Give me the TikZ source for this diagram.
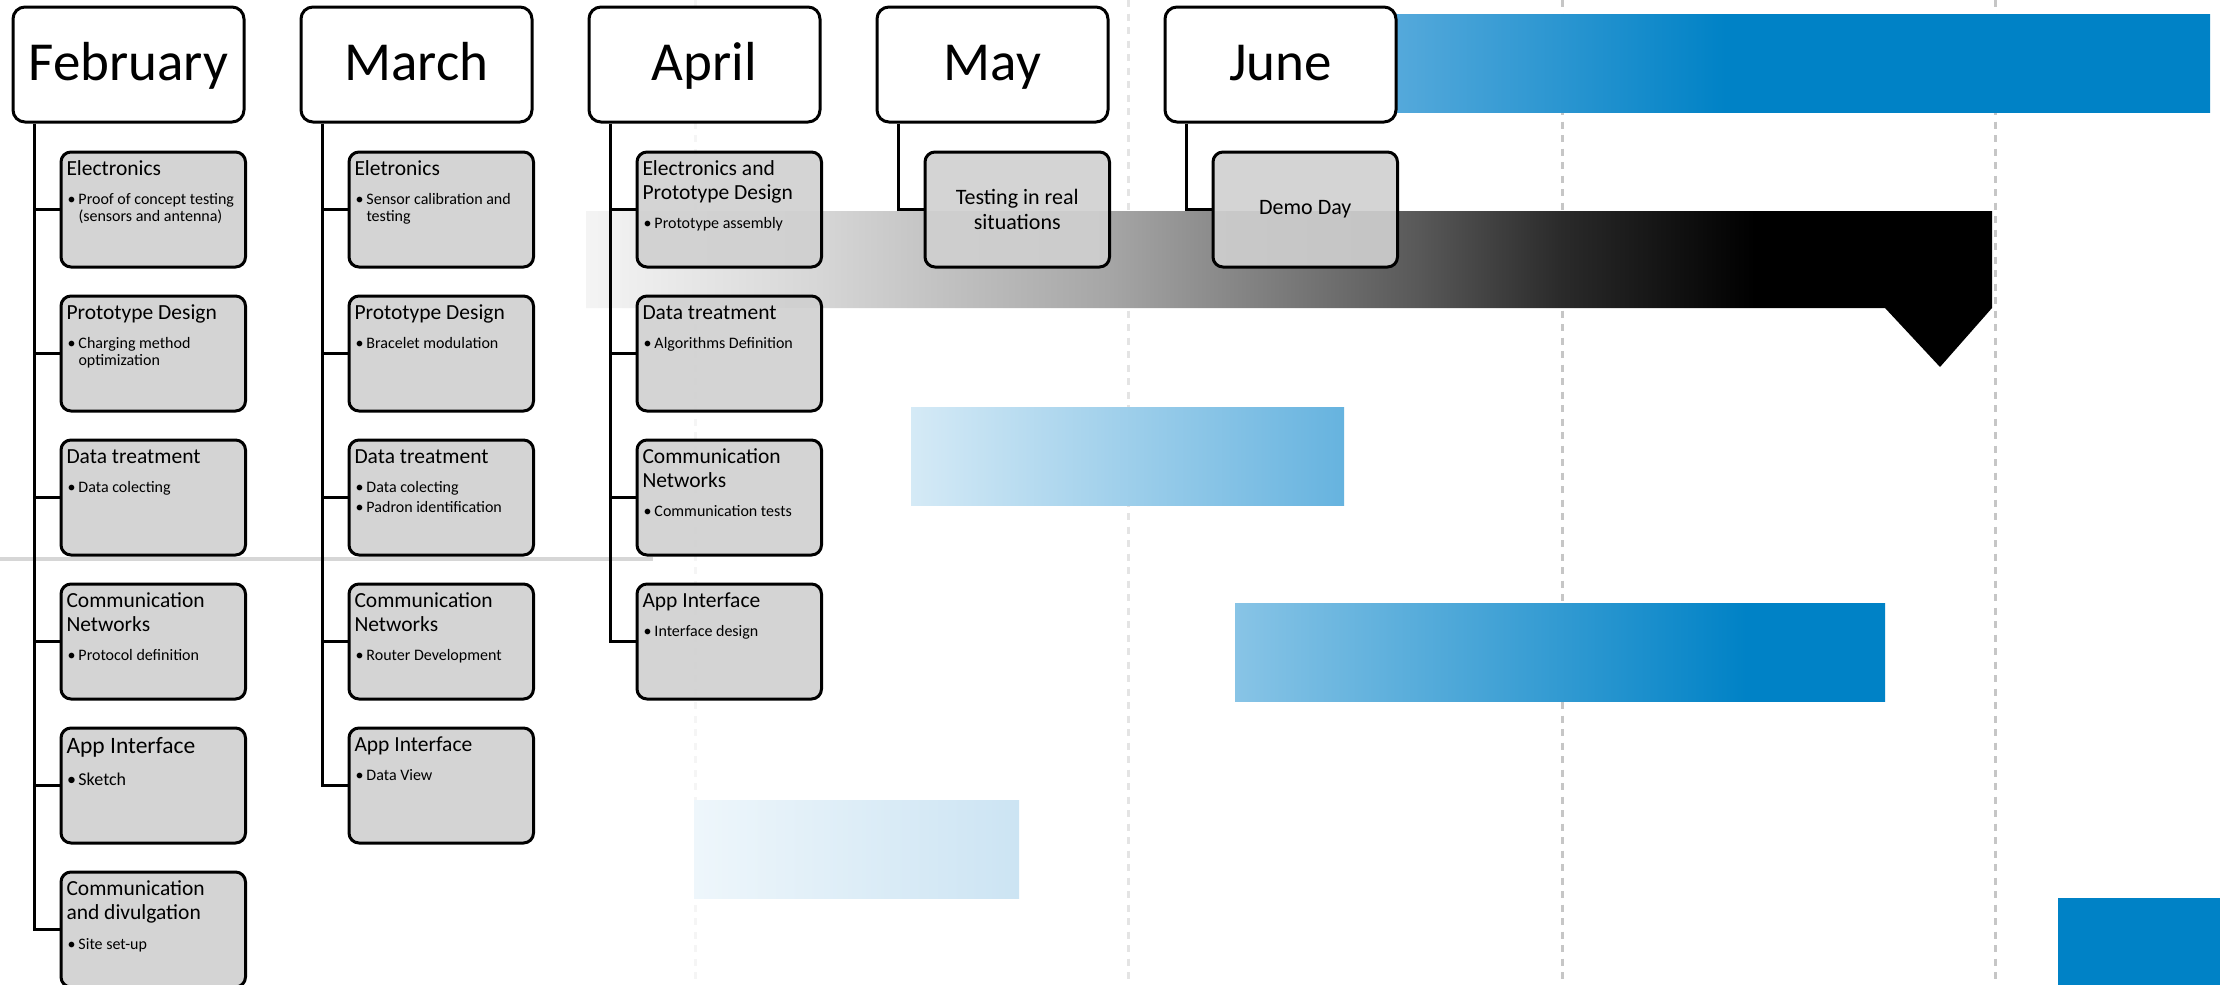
\documentclass[tikz,border=0pt]{standalone}
\usepackage{fontspec}
\setmainfont{Carlito}
\usetikzlibrary{calc}

\definecolor{boxgray}{HTML}{D0D0D0}
\definecolor{ganttblue}{HTML}{0082C6}
\definecolor{gridB}{HTML}{E4E4E4}
\definecolor{gridC}{HTML}{C6C6C6}
\definecolor{rulegray}{HTML}{D6D6D6}

% shading stops for the bars
\definecolor{bk0}{HTML}{F4F4F4}
\definecolor{bk1}{HTML}{D6D6D6}
\definecolor{bk2}{HTML}{A6A6A6}
\definecolor{bk3}{HTML}{585858}
\definecolor{bk4}{HTML}{2A2A2A}
\definecolor{bk5}{HTML}{000000}
\definecolor{tb0}{HTML}{55A9DB}
\definecolor{b2a}{HTML}{88C4E6}
\definecolor{b1a}{HTML}{D5EAF6}
\definecolor{b1b}{HTML}{66B3DF}
\definecolor{b3a}{HTML}{EEF6FB}
\definecolor{b3b}{HTML}{CCE4F3}

\pgfdeclarehorizontalshading{blackbar}{100bp}{color(0bp)=(bk0); color(25bp)=(bk0); color(33.32bp)=(bk1); color(43.56bp)=(bk2); color(54.66bp)=(bk3); color(59.71bp)=(bk4); color(66.57bp)=(bk5); color(100bp)=(bk5)}
\pgfdeclarehorizontalshading{topbar}{100bp}{color(0bp)=(tb0); color(25.9bp)=(tb0); color(45.8bp)=(ganttblue); color(100bp)=(ganttblue)}
\pgfdeclarehorizontalshading{midbar}{100bp}{color(0bp)=(b2a); color(25bp)=(b2a); color(64.3bp)=(ganttblue); color(100bp)=(ganttblue)}

% task box contents
\newcommand{\taskbox}[1]{\parbox[c][115pt][t]{184.5pt}{\parskip=0pt\raggedright #1}}
\newcommand{\ttl}[1]{{\fontsize{21.5}{24}\selectfont\leftskip=5.5pt\noindent\rule{0pt}{23.5pt}#1\par}}
\newcommand{\bul}[2][11pt]{\vspace{#1}{\fontsize{16}{17.5}\selectfont\leftskip=17.5pt\noindent\llap{\makebox[9pt][c]{\textbullet}\hspace{2.5pt}}#2\par}}

\begin{document}
\begin{tikzpicture}[x=1pt,y=-1pt,
  header/.style={draw, line width=3pt, fill=white, rounded corners=12pt,
    minimum width=231pt, minimum height=115pt, inner sep=0pt,
    text height=38pt, text depth=7pt, font=\fontsize{55}{62}\selectfont},
  task/.style={draw, line width=3pt, fill=boxgray, fill opacity=0.9, text opacity=1,
    rounded corners=10pt, minimum width=184.5pt, minimum height=115pt,
    inner sep=0pt, anchor=north west},
  milestone/.style={task, align=center, font=\fontsize{22}{25}\selectfont},
  link/.style={line width=3pt, black},
  gridline/.style={line width=3pt, dash pattern=on 7pt off 6.5pt}]

\useasboundingbox (0,0) rectangle (2220,985);
\fill[white] (0,0) rectangle (2220,985);

% time grid
\draw[gridline, draw=black, draw opacity=0.04] (695,0) -- (695,985);
\draw[gridline, gridB] (1128,0) -- (1128,985);
\draw[gridline, gridC] (1562,0) -- (1562,985);
\draw[gridline, gridC] (1995,0) -- (1995,985);

% schedule bars
\path[shading=topbar] (1380,14) rectangle (2210,112);
\path[shading=blackbar] (586,211) -- (1992,211) -- (1992,308) -- (1940,367) -- (1885,308) -- (586,308) -- cycle;
\path[left color=b1a, right color=b1b] (911,407) rectangle (1344,505);
\path[shading=midbar] (1235,603) rectangle (1885,701);
\path[left color=b3a, right color=b3b] (694,800) rectangle (1019,898);
\fill[ganttblue] (2058,898) rectangle (2220,985);

% row separator
\draw[rulegray, line width=4pt] (0,559) -- (653,559);

% month headers
\node[header] (feb) at (128.5,64.5) {February};
\node[header] (mar) at (416.5,64.5) {March};
\node[header] (apr) at (704.5,64.5) {April};
\node[header] (may) at (992.5,64.5) {May};
\node[header] (jun) at (1280.5,64.5) {June};

% February
\node[task] (f1) at (59.5,150.5) {\taskbox{\ttl{Electronics}\bul{Proof of concept testing\\(sensors and antenna)}}};
\node[task] (f2) at (59.5,294.5) {\taskbox{\ttl{Prototype Design}\bul{Charging method\\optimization}}};
\node[task] (f3) at (59.5,438.5) {\taskbox{\ttl{Data treatment}\bul{Data colecting}}};
\node[task] (f4) at (59.5,582.5) {\taskbox{\ttl{Communication\\Networks}\bul{Protocol definition}}};
\node[task] (f5) at (59.5,726.5) {\taskbox{{\fontsize{23.5}{26}\selectfont\leftskip=5.5pt\noindent\rule{0pt}{25.5pt}App Interface\par}\vspace{12pt}{\fontsize{18}{20}\selectfont\leftskip=17.5pt\noindent\llap{\makebox[9pt][c]{\textbullet}\hspace{2.5pt}}Sketch\par}}};
\node[task] (f6) at (59.5,870.5) {\taskbox{\ttl{Communication\\and divulgation}\bul[12pt]{Site set-up}}};

% March
\node[task] (m1) at (347.5,150.5) {\taskbox{\ttl{Eletronics}\bul{Sensor calibration and\\testing}}};
\node[task] (m2) at (347.5,294.5) {\taskbox{\ttl{Prototype Design}\bul{Bracelet modulation}}};
\node[task] (m3) at (347.5,438.5) {\taskbox{\ttl{Data treatment}\bul{Data colecting}\bul[2.5pt]{Padron identification}}};
\node[task] (m4) at (347.5,582.5) {\taskbox{\ttl{Communication\\Networks}\bul{Router Development}}};
\node[task] (m5) at (347.5,726.5) {\taskbox{\ttl{App Interface}\bul{Data View}}};

% April
\node[task] (a1) at (635.5,150.5) {\taskbox{\ttl{Electronics and\\Prototype Design}\bul{Prototype assembly}}};
\node[task] (a2) at (635.5,294.5) {\taskbox{\ttl{Data treatment}\bul{Algorithms Definition}}};
\node[task] (a3) at (635.5,438.5) {\taskbox{\ttl{Communication\\Networks}\bul{Communication tests}}};
\node[task] (a4) at (635.5,582.5) {\taskbox{\ttl{App Interface}\bul{Interface design}}};

% May and June
\node[milestone] (y1) at (923.5,150.5) {Testing in real\\situations};
\node[milestone] (j1) at (1211.5,150.5) {Demo Day};

% trunks and branches
\coordinate (febT) at ($(feb.south west)+(23,0)$);
\coordinate (marT) at ($(mar.south west)+(23,0)$);
\coordinate (aprT) at ($(apr.south west)+(23,0)$);
\coordinate (mayT) at ($(may.south west)+(23,0)$);
\coordinate (junT) at ($(jun.south west)+(23,0)$);

\draw[link] (febT) |- (f6.west);
\foreach \k in {1,...,5} \draw[link] (febT |- f\k.west) -- (f\k.west);
\draw[link] (marT) |- (m5.west);
\foreach \k in {1,...,4} \draw[link] (marT |- m\k.west) -- (m\k.west);
\draw[link] (aprT) |- (a4.west);
\foreach \k in {1,...,3} \draw[link] (aprT |- a\k.west) -- (a\k.west);
\draw[link] (mayT) |- (y1.west);
\draw[link] (junT) |- (j1.west);
\end{tikzpicture}
\end{document}
